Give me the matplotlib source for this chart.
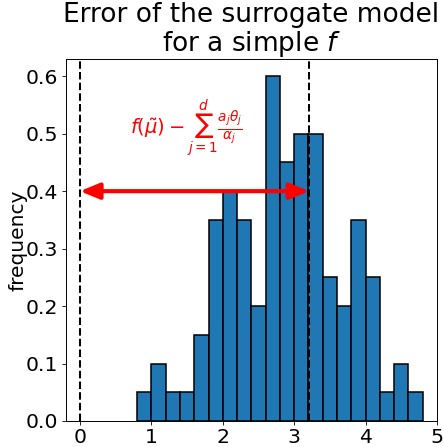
import numpy as np
import matplotlib
matplotlib.use("Agg")
import matplotlib.pyplot as plt

bin_edges = [0.8 + 0.2 * i for i in range(21)]
densities = [0.05, 0.1, 0.05, 0.05, 0.15, 0.35, 0.4, 0.35, 0.2, 0.6,
             0.45, 0.5, 0.5, 0.25, 0.2, 0.35, 0.25, 0.05, 0.1, 0.05]
offset_value = 3.21
arrow_y = 0.4
x_ticks = [0, 1, 2, 3, 4, 5]

fig = plt.figure(figsize=(4.43, 4.47), dpi=100)
ax = fig.add_axes([65.7 / 443, 1 - 421 / 447, (437 - 65.7) / 443, (421 - 59) / 447])

centers = [(bin_edges[i] + bin_edges[i + 1]) / 2 for i in range(len(densities))]
ax.hist(centers, bins=bin_edges, weights=densities, color="C0",
        edgecolor="black", linewidth=1.1)
ax.axvline(0, color="black", linestyle="--", linewidth=1.45)
ax.axvline(offset_value, color="black", linestyle="--", linewidth=1.45)
ax.annotate("", xy=(0, arrow_y), xytext=(offset_value, arrow_y),
            arrowprops=dict(arrowstyle="<|-|>,head_length=0.58,head_width=0.24",
                            color="red", lw=3, mutation_scale=20,
                            shrinkA=0, shrinkB=0))
ax.text(0.7, 0.51, r"$f(\tilde{\mu}) - \sum_{j=1}^{d}\frac{a_j\theta_j}{\alpha_j}$",
        color="red", fontsize=14, va="center", ha="left")

ax.set_xlim(-0.2, 5.0)
ax.set_ylim(0, 0.63)
ax.set_xticks(x_ticks)
ax.tick_params(labelsize=14.7, length=2.6, width=0.6, pad=2.6)
for sp in ax.spines.values():
    sp.set_linewidth(0.7)
ax.set_ylabel("frequency", fontsize=14.5)
ax.yaxis.set_label_coords(-0.104, 0.5)
ax.set_title("Error of the surrogate model\nfor a simple $f$", fontsize=19,
             pad=1, linespacing=1.05)

fig.savefig("out.png", dpi=100)
